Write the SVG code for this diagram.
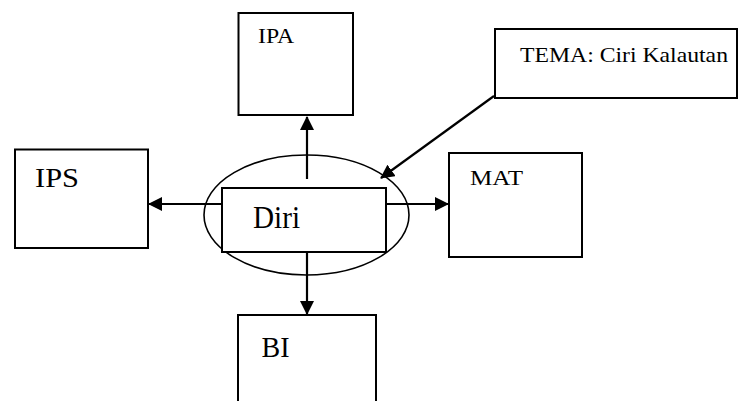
<svg xmlns="http://www.w3.org/2000/svg" width="738" height="401" viewBox="0 0 738 401">
  <style>
    .box { fill: #ffffff; stroke: #000000; stroke-width: 2; }
    .oval { fill: none; stroke: #000000; stroke-width: 1.6; }
    .label { font-family: "Liberation Serif", "DejaVu Serif", serif; fill: #000000; }
    .link { stroke: #000000; stroke-width: 2.2; fill: none; }
  </style>
  <defs>
    <marker id="head" viewBox="0 0 14 14" refX="13" refY="7" markerWidth="14" markerHeight="14" markerUnits="userSpaceOnUse" orient="auto">
      <path d="M0,0 L14,7 L0,14 Z" fill="#000000"/>
    </marker>
  </defs>

  <rect width="738" height="401" fill="#ffffff"/>

  <!-- central ellipse -->
  <ellipse class="oval" cx="306.5" cy="215" rx="102.5" ry="60"/>

  <g id="connectors">
    <line class="link" x1="307" y1="179" x2="307" y2="117" marker-end="url(#head)"/>
    <line class="link" x1="307" y1="252" x2="307" y2="314" marker-end="url(#head)"/>
    <line class="link" x1="222" y1="204" x2="149" y2="204" marker-end="url(#head)"/>
    <line class="link" x1="386" y1="204" x2="448" y2="204" marker-end="url(#head)"/>
    <line class="link" x1="494" y1="96" x2="381" y2="178" marker-end="url(#head)"/>
  </g>

  <g id="node-diri">
    <rect class="box" x="222" y="188" width="164" height="64"/>
    <text class="label" font-family="Liberation Serif, serif" x="253" y="228" font-size="32" textLength="47" lengthAdjust="spacingAndGlyphs">Diri</text>
  </g>

  <g id="node-ipa">
    <rect class="box" x="238.5" y="13" width="114.5" height="102"/>
    <text class="label" font-family="Liberation Serif, serif" x="258" y="43" font-size="21" textLength="36" lengthAdjust="spacingAndGlyphs">IPA</text>
  </g>

  <g id="node-ips">
    <rect class="box" x="15" y="149.5" width="133" height="98.5"/>
    <text class="label" font-family="Liberation Serif, serif" x="35" y="187" font-size="27.5" textLength="44" lengthAdjust="spacingAndGlyphs">IPS</text>
  </g>

  <g id="node-mat">
    <rect class="box" x="449" y="153" width="133" height="104"/>
    <text class="label" font-family="Liberation Serif, serif" x="470" y="185" font-size="20.5" textLength="53" lengthAdjust="spacingAndGlyphs">MAT</text>
  </g>

  <g id="node-bi">
    <rect class="box" x="238" y="315" width="138" height="110"/>
    <text class="label" font-family="Liberation Serif, serif" x="261.5" y="356.5" font-size="30" textLength="28" lengthAdjust="spacingAndGlyphs">BI</text>
  </g>

  <g id="node-tema">
    <rect class="box" x="495" y="29" width="242" height="69"/>
    <text class="label" font-family="Liberation Serif, serif" x="520" y="62" font-size="21.5" textLength="208" lengthAdjust="spacingAndGlyphs">TEMA: Ciri Kalautan</text>
  </g>
</svg>
